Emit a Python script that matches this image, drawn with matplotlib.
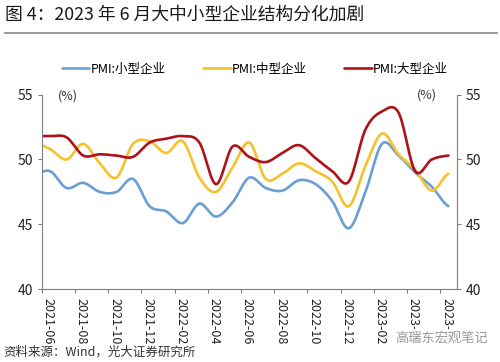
import numpy as np
import pandas as pd
import matplotlib
matplotlib.use('Agg')
import matplotlib.pyplot as plt

plt.rcParams['font.family'] = ['Noto Sans CJK SC', 'DejaVu Sans']

# monthly data, 2021-05 .. 2023-06 (2021-05 only shows where the line meets the left edge)
months = pd.period_range('2021-05', '2023-06', freq='M')
small = [48.8, 49.1, 47.8, 48.2, 47.5, 47.5, 48.5, 46.4, 46.0, 45.1, 46.6, 45.6, 46.7,
         48.6, 47.8, 47.6, 48.4, 48.1, 46.8, 44.7, 47.5, 51.2, 50.3, 49.0, 47.9, 46.4]
medium = [51.3, 50.8, 50.0, 51.2, 49.7, 48.6, 51.2, 51.4, 50.5, 51.4, 48.6, 47.5, 49.4,
          51.3, 48.5, 48.9, 49.7, 49.1, 48.3, 46.4, 49.5, 52.0, 50.4, 49.2, 47.6, 48.9]
large = [51.8, 51.8, 51.7, 50.3, 50.4, 50.3, 50.2, 51.3, 51.6, 51.8, 51.3, 48.1, 51.0,
         50.2, 49.8, 50.5, 51.1, 50.1, 49.1, 48.3, 52.3, 53.7, 53.6, 49.1, 50.0, 50.3]
tick_labels = [str(p) for p in pd.period_range('2021-06', '2023-06', freq='2M')]


def smooth(y, n=24):
    # Catmull-Rom through the points (like Excel's smoothed line)
    y = np.asarray(y, float)
    p = np.concatenate([[y[0]], y, [y[-1]]])
    xs, ys = [], []
    for i in range(len(y) - 1):
        p0, p1, p2, p3 = p[i], p[i + 1], p[i + 2], p[i + 3]
        t = np.linspace(0, 1, n, endpoint=False)
        m1, m2 = (p2 - p0) / 2, (p3 - p1) / 2
        h = (2*t**3 - 3*t**2 + 1)*p1 + (t**3 - 2*t**2 + t)*m1 + (-2*t**3 + 3*t**2)*p2 + (t**3 - t**2)*m2
        xs.append(i + t)
        ys.append(h)
    xs.append([len(y) - 1])
    ys.append([y[-1]])
    return np.concatenate(xs), np.concatenate(ys)


# x position: months counted from 2021-06-01, points sit mid-month
x0 = -0.5  # 2021-05 mid-month

fig = plt.figure(figsize=(5, 3.62), dpi=100)
ax = fig.add_axes([0.0834, 0.2008, 0.83, 0.538])

series = [(small, '#6B9FD3', 'PMI:小型企业'),
          (medium, '#F6C12A', 'PMI:中型企业'),
          (large, '#B01219', 'PMI:大型企业')]
for vals, col, lab in series:
    xs, ys = smooth(vals)
    ax.plot(xs + x0, ys, color=col, lw=1.9, label=lab, solid_capstyle='round')

ax.set_xlim(0, 25)
ax.set_ylim(40, 55)
ax.set_yticks([40, 45, 50, 55])
ax.set_xticks(np.arange(0, 25, 2))
ax.set_xticklabels(tick_labels, rotation=-90, ha='left', va='top', fontsize=9, color='#222222')
ax.tick_params(axis='y', labelsize=10, colors='#222222', length=3, direction='out',
               right=True, labelright=True, color='#7f7f7f')
ax.tick_params(axis='x', length=3, color='#7f7f7f', pad=3)
for s in ['left', 'right', 'bottom']:
    ax.spines[s].set_color('#7f7f7f')
ax.spines['top'].set_visible(False)

ax.text(0.063, 0.99, '(%)', transform=ax.transAxes, ha='center', va='center', fontsize=9, color='#333333')
ax.text(0.928, 0.995, '(%)', transform=ax.transAxes, ha='center', va='center', fontsize=9, color='#333333')

fig.legend(loc='center', bbox_to_anchor=(0.51, 0.809), ncol=3, frameon=False, fontsize=9,
           handlelength=2.2, handletextpad=0.1, columnspacing=3.0)

# title and rule
fig.text(0.01, 0.96, '图 4：2023 年 6 月大中小型企业结构分化加剧', fontsize=12.8, ha='left', va='center',
         color='#1a1a1a', fontweight='medium')
fig.add_artist(plt.Line2D([0.01, 0.994], [0.908, 0.908], color='#888888', lw=1.2))

fig.text(0.006, 0.028, '资料来源：Wind，光大证券研究所', fontsize=9, ha='left', va='center', color='#333333')
fig.text(0.79, 0.066, '高瑞东宏观笔记', fontsize=9.5, ha='left', va='center', color='#9a9a9a',
         bbox=dict(boxstyle='square,pad=0.2', fc='white', ec='none', alpha=0.85))

fig.savefig('out.png', dpi=100)
